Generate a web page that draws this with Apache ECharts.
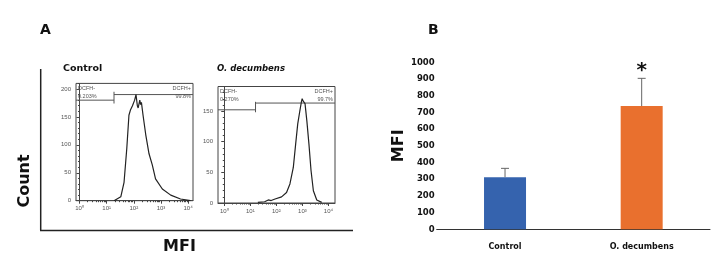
<!DOCTYPE html>
<html>
<head>
<meta charset="utf-8">
<script src="https://cdn.jsdelivr.net/npm/echarts@6/dist/echarts.min.js"></script>
<style>
  html, body { margin: 0; padding: 0; background: #fff; }
  #chart { width: 724px; height: 275px; }
</style>
</head>
<body>
<div id="chart"></div>
<script>
// Panel A: flow histograms, x = log10(DCF fluorescence), y = cell count
const controlHist = [[1.27, 0], [1.52, 7], [1.64, 33], [1.74, 93], [1.82, 153], [1.88, 163], [1.95, 170],
  [2.03, 180], [2.08, 190], [2.13, 170], [2.16, 166], [2.22, 180], [2.25, 172], [2.28, 176], [2.34, 153],
  [2.44, 118], [2.56, 84], [2.68, 64], [2.80, 39], [3.05, 21], [3.36, 10], [3.72, 3], [4.09, 0]]
const decumbensHist = [[1.29, 1], [1.55, 2], [1.69, 5], [1.80, 4], [1.95, 6.5], [2.20, 10], [2.39, 17],
  [2.52, 31], [2.65, 58], [2.74, 96], [2.82, 129], [2.90, 150], [2.96, 165], [2.99, 170], [3.03, 166],
  [3.10, 162], [3.17, 134], [3.25, 96], [3.33, 53], [3.42, 20], [3.55, 5], [3.74, 1]]

// gate: [split position, DCFH- line, DCFH+ line, tick low, tick high]
const controlGate = [1.27, 180, 190, 174, 195]
const decumbensGate = [1.20, 152, 163, 148, 165]
const gateNames = ['DCFH-', 'DCFH+']
const controlPct = ['0.203%', '99.8%']
const decumbensPct = ['0.270%', '99.7%']

const decadeTicks = [0, 1, 2, 3, 4]
const controlCountTicks = [0, 50, 100, 150, 200]
const decumbensCountTicks = [0, 50, 100, 150]

// Panel B: mean fluorescence intensity
const groups = ['Control', 'O. decumbens']
const mfiMean = [312, 738]
const mfiUpper = [365, 904]
const sigMarks = ['', '*']
const barColors = ['#3563AE', '#E9702E']

const sup = ['⁰', '¹', '²', '³', '⁴']
const minorDecade = []
for (let d = 0; d < 4; d++) {
  for (let k = 2; k < 10; k++) minorDecade.push(d + Math.log10(k))
}
const minorCount = (max) => {
  const out = []
  for (let v = 0; v <= max; v += 10) out.push(v)
  return out
}

const axisColor = '#444'
const tinyLabel = { fontSize: 6, color: '#555', fontFamily: 'Liberation Sans' }

const histX = (gridIndex, min, max) => [
  {
    gridIndex, type: 'value', min, max,
    axisLine: { show: true, lineStyle: { color: axisColor } },
    axisTick: { show: true, customValues: decadeTicks, length: 3, lineStyle: { color: axisColor } },
    axisLabel: { ...tinyLabel, customValues: decadeTicks, margin: 5, formatter: (v) => '10' + sup[v] },
    splitLine: { show: false }
  },
  {
    gridIndex, type: 'value', min, max, position: 'bottom',
    axisLine: { show: false },
    axisTick: { show: true, customValues: minorDecade, length: 1.5, lineStyle: { color: axisColor } },
    axisLabel: { show: false },
    splitLine: { show: false }
  }
]

const histY = (gridIndex, max, ticks) => [
  {
    gridIndex, type: 'value', min: 0, max,
    axisLine: { show: true, lineStyle: { color: axisColor } },
    axisTick: { show: true, customValues: ticks, length: 3, lineStyle: { color: axisColor } },
    axisLabel: { ...tinyLabel, customValues: ticks, margin: 5 },
    splitLine: { show: false }
  },
  {
    gridIndex, type: 'value', min: 0, max, position: 'left',
    axisLine: { show: false },
    axisTick: { show: true, customValues: minorCount(max), length: 1.5, lineStyle: { color: axisColor } },
    axisLabel: { show: false },
    splitLine: { show: false }
  }
]

// gate bars plus their labels, drawn in data coordinates
const gateRenderer = (xMin, xMax, pct) => (params, api) => {
  const split = api.value(0)
  const a = api.coord([xMin, api.value(1)])
  const b = api.coord([split, api.value(1)])
  const c = api.coord([split, api.value(2)])
  const d = api.coord([xMax, api.value(2)])
  const t1 = api.coord([split, api.value(3)])
  const t2 = api.coord([split, api.value(4)])
  const cs = params.coordSys
  const stroke = { stroke: '#555', lineWidth: 1 }
  const txt = (x, y, text, align) => ({
    type: 'text',
    style: { x, y, text, align, verticalAlign: 'top', font: '5.5px "Liberation Sans"', fill: '#555' }
  })
  return {
    type: 'group',
    children: [
      { type: 'line', shape: { x1: a[0], y1: a[1], x2: b[0], y2: b[1] }, style: stroke },
      { type: 'line', shape: { x1: c[0], y1: c[1], x2: d[0], y2: d[1] }, style: stroke },
      { type: 'line', shape: { x1: t1[0], y1: t1[1], x2: t2[0], y2: t2[1] }, style: stroke },
      txt(cs.x + 2, cs.y + 2, gateNames[0], 'left'),
      txt(cs.x + 2, cs.y + 10, pct[0], 'left'),
      txt(cs.x + cs.width - 2, cs.y + 2, gateNames[1], 'right'),
      txt(cs.x + cs.width - 2, cs.y + 10, pct[1], 'right')
    ]
  }
}

const boldFont = 'DejaVu Sans'

const option = {
  animation: false,
  grid: [
    { left: 76, top: 83.4, width: 117, height: 117.3, show: true, borderColor: axisColor, borderWidth: 1, backgroundColor: 'transparent' },
    { left: 218, top: 86.5, width: 117, height: 116.5, show: true, borderColor: axisColor, borderWidth: 1, backgroundColor: 'transparent' },
    { left: 436.7, top: 62.3, width: 273.3, height: 167 }
  ],
  xAxis: [
    ...histX(0, -0.13, 4.18),
    ...histX(1, -0.24, 4.25),
    {
      gridIndex: 2, type: 'category', data: groups,
      axisLine: { lineStyle: { color: '#333', width: 1 } },
      axisTick: { show: false },
      axisLabel: { fontFamily: boldFont, fontWeight: 'bold', fontSize: 8, color: '#111', margin: 14 }
    }
  ],
  yAxis: [
    ...histY(0, 210, controlCountTicks),
    ...histY(1, 190, decumbensCountTicks),
    {
      gridIndex: 2, type: 'value', min: 0, max: 1000, interval: 100,
      name: 'MFI', nameLocation: 'middle', nameRotate: 90, nameGap: 24,
      nameTextStyle: { fontFamily: boldFont, fontWeight: 'bold', fontSize: 16, color: '#111' },
      axisLine: { show: false },
      axisTick: { show: false },
      splitLine: { show: false },
      axisLabel: {
        fontFamily: boldFont, fontWeight: 'bold', fontSize: 8.5, color: '#111', margin: 2,
        formatter: (v) => String(v)
      }
    }
  ],
  series: [
    {
      type: 'line', xAxisIndex: 0, yAxisIndex: 0, data: controlHist,
      symbol: 'none', lineStyle: { color: '#222', width: 1.2 }
    },
    {
      type: 'custom', xAxisIndex: 0, yAxisIndex: 0, data: [controlGate],
      renderItem: gateRenderer(-0.13, 4.18, controlPct)
    },
    {
      type: 'line', xAxisIndex: 2, yAxisIndex: 2, data: decumbensHist,
      symbol: 'none', lineStyle: { color: '#222', width: 1.2 }
    },
    {
      type: 'custom', xAxisIndex: 2, yAxisIndex: 2, data: [decumbensGate],
      renderItem: gateRenderer(-0.24, 4.25, decumbensPct)
    },
    {
      type: 'bar', xAxisIndex: 4, yAxisIndex: 4, barWidth: 42,
      data: mfiMean.map((v, i) => ({ value: v, itemStyle: { color: barColors[i] } }))
    },
    {
      type: 'custom', xAxisIndex: 4, yAxisIndex: 4, z: 3,
      data: groups.map((g, i) => [i, mfiMean[i], mfiUpper[i]]),
      renderItem: (params, api) => {
        const base = api.coord([api.value(0), api.value(1)])
        const top = api.coord([api.value(0), api.value(2)])
        const stroke = { stroke: '#666', lineWidth: 1 }
        return {
          type: 'group',
          children: [
            { type: 'line', shape: { x1: base[0], y1: base[1], x2: top[0], y2: top[1] }, style: stroke },
            { type: 'line', shape: { x1: top[0] - 4, y1: top[1], x2: top[0] + 4, y2: top[1] }, style: stroke },
            {
              type: 'text',
              style: {
                x: top[0], y: top[1] - 8, text: sigMarks[params.dataIndex], align: 'center', verticalAlign: 'middle',
                font: 'bold 20px "DejaVu Sans"', fill: '#111'
              }
            }
          ]
        }
      }
    }
  ],
  graphic: [
    { type: 'line', shape: { x1: 40.7, y1: 69, x2: 40.7, y2: 230.5 }, style: { stroke: '#222', lineWidth: 1.5 } },
    { type: 'line', shape: { x1: 40, y1: 230.5, x2: 353, y2: 230.5 }, style: { stroke: '#222', lineWidth: 1.5 } },
    { type: 'text', x: 40, y: 23, style: { text: 'A', font: 'bold 14px "DejaVu Sans"', fill: '#111' } },
    { type: 'text', x: 428, y: 23, style: { text: 'B', font: 'bold 14px "DejaVu Sans"', fill: '#111' } },
    {
      type: 'text', x: 25, y: 181, rotation: Math.PI / 2,
      style: { text: 'Count', font: 'bold 16px "DejaVu Sans"', fill: '#111', align: 'center', verticalAlign: 'middle' }
    },
    {
      type: 'text', x: 179.5, y: 246.5,
      style: { text: 'MFI', font: 'bold 16px "DejaVu Sans"', fill: '#111', align: 'center', verticalAlign: 'middle' }
    },
    {
      type: 'text', x: 63, y: 64,
      style: { text: 'Control', font: '900 9.5px "DejaVu Sans"', fill: '#111' }
    },
    {
      type: 'text', x: 217, y: 64,
      style: { text: 'O. decumbens', font: 'italic 900 8.5px "DejaVu Sans"', fill: '#111' }
    }
  ]
}

const chart = echarts.init(document.getElementById('chart'))
chart.setOption(option)
</script>
</body>
</html>
